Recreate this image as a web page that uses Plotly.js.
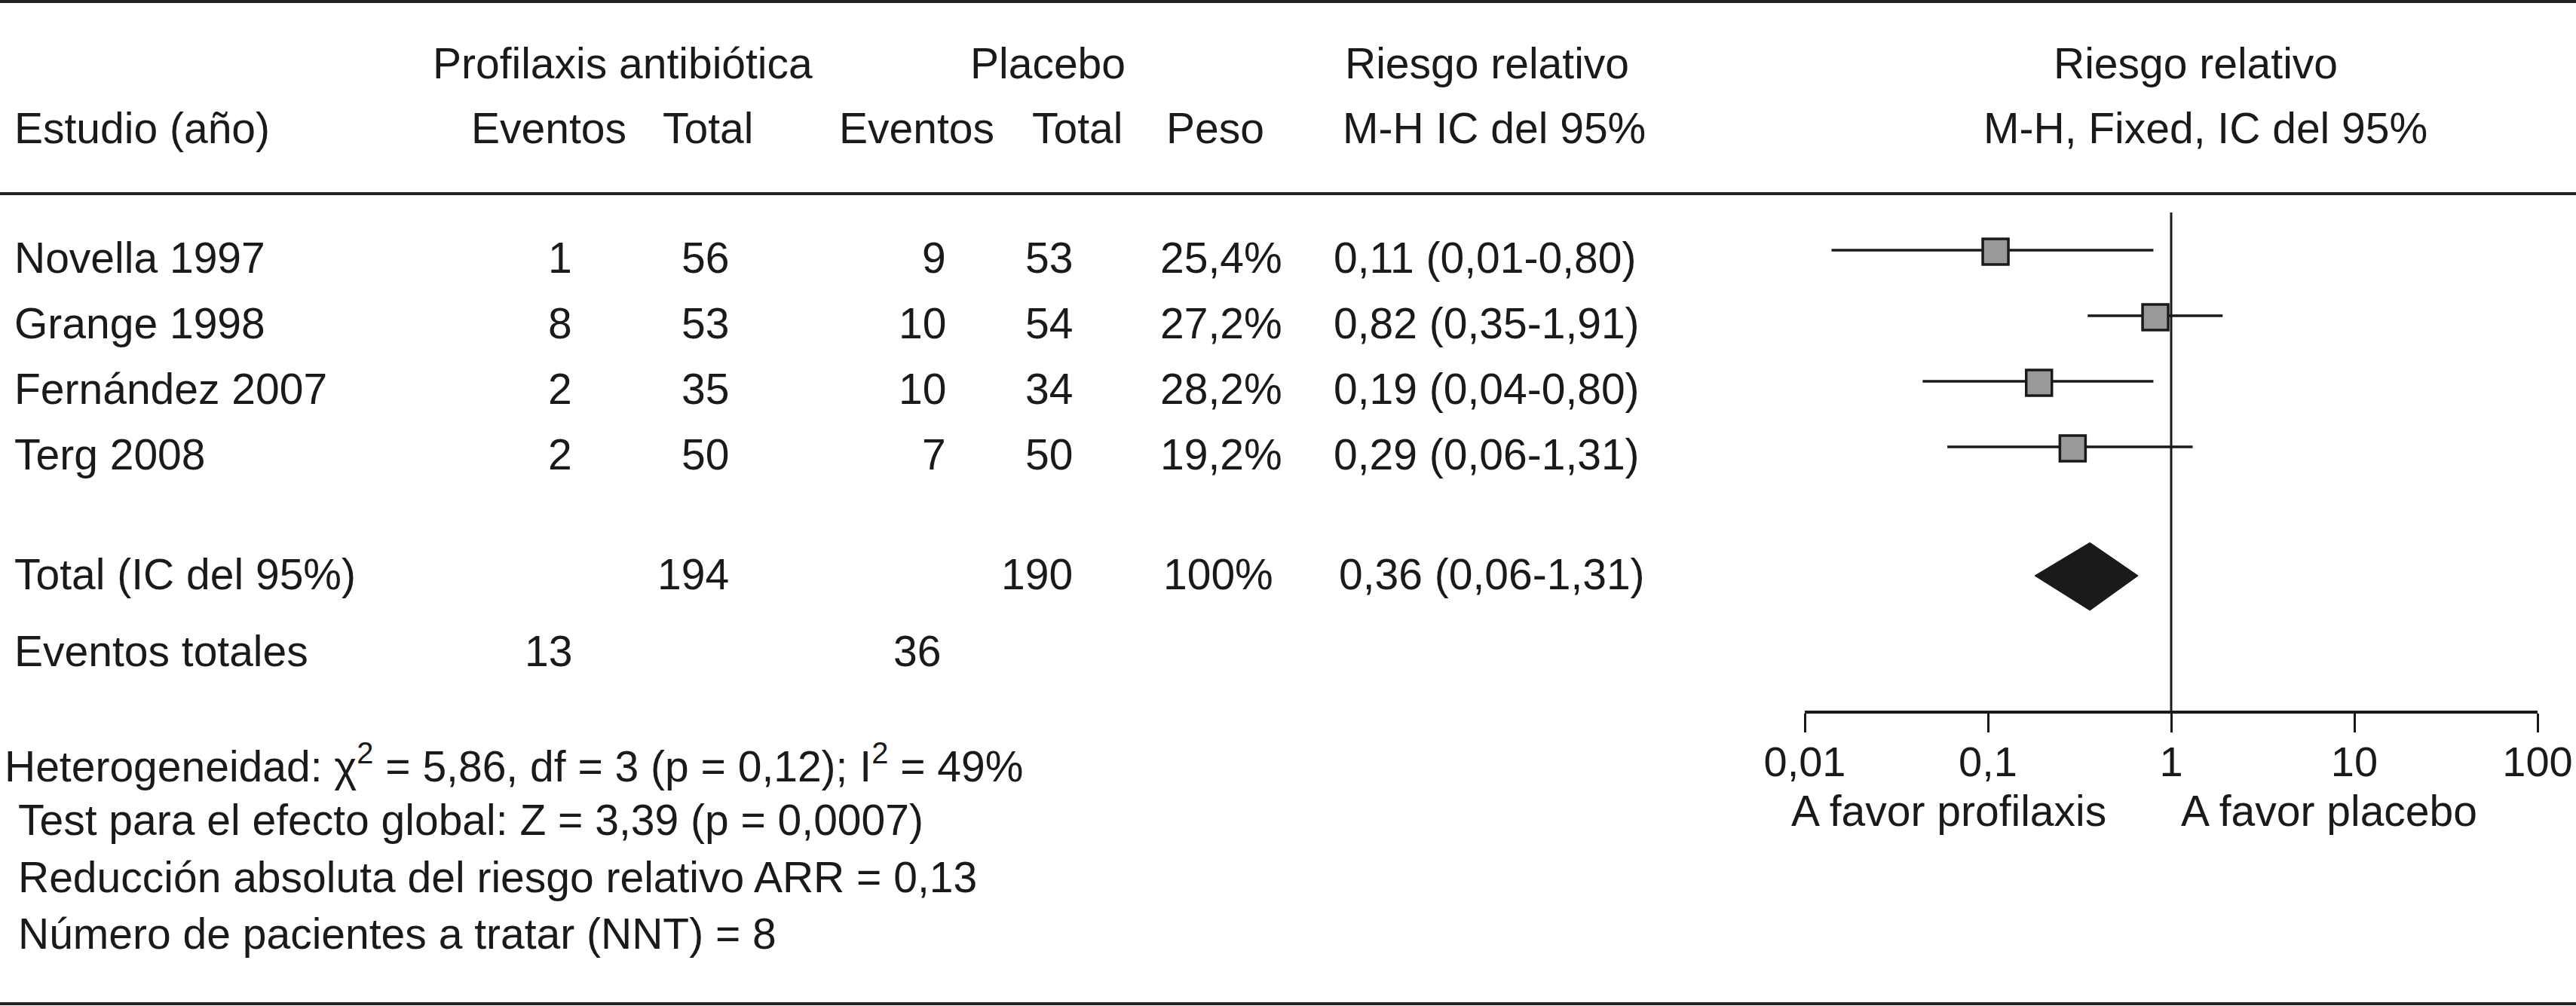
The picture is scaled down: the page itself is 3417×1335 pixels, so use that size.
<!DOCTYPE html>
<html>
<head>
<meta charset="utf-8">
<script src="https://cdn.plot.ly/plotly-3.0.1.min.js"></script>
<style>html,body{margin:0;padding:0;background:#fff;}#chart{width:3417px;height:1335px;}</style>
</head>
<body>
<div id="chart"></div>
<script>
// ---------- data ----------
const studies   = ['Novella 1997', 'Grange 1998', 'Fernández 2007', 'Terg 2008'];
const evProf    = [1, 8, 2, 2];
const totProf   = [56, 53, 35, 50];
const evPlac    = [9, 10, 10, 7];
const totPlac   = [53, 54, 34, 50];
const weights   = [25.4, 27.2, 28.2, 19.2];
const rr        = [0.11, 0.82, 0.19, 0.29];
const ciLo      = [0.014, 0.35, 0.044, 0.06];
const ciHi      = [0.80, 1.91, 0.80, 1.31];
const totalN    = [194, 190];          // profilaxis, placebo
const totalEv   = [13, 36];            // profilaxis, placebo
const pooledWeightLabel = '100%';
const pooledLabel = '0,36 (0,06-1,31)';
const pooled    = {rr: 0.36, lo: 0.18, hi: 0.66};
const tickVals  = [0.01, 0.1, 1, 10, 100];
const tickText  = ['0,01', '0,1', '1', '10', '100'];
const footLines = [
  'Heterogeneidad: χ<sup>2</sup> = 5,86, df = 3 (p = 0,12); I<sup>2</sup> = 49%',
  'Test para el efecto global: Z = 3,39 (p = 0,0007)',
  'Reducción absoluta del riesgo relativo ARR = 0,13',
  'Número de pacientes a tratar (NNT) = 8'
];

// ---------- layout constants ----------
const W = 3417, H = 1335;
const FONT = 'Liberation Sans, Arial, Helvetica, sans-serif';
const FS = 57;
const INK = '#1a1a1a';
const ROW0 = 342, STEP = 87;
const rowY = i => ROW0 + i * STEP;
const TOTAL_Y = 762, EVT_Y = 864;
const MARK_DY = -10;
const AXIS_Y = 945, REF_TOP = 282;

const dec = (v, d) => v.toFixed(d).replace('.', ',');

function ann(text, px, py, anchor, size) {
  return {xref: 'paper', yref: 'y', x: px / W, y: py, text: text, showarrow: false,
          xanchor: anchor, yanchor: 'middle', borderpad: 0,
          font: {family: FONT, size: size || FS, color: INK}};
}

const annotations = [];
// headers
annotations.push(ann('Profilaxis antibiótica', 826, 84, 'center'));
annotations.push(ann('Placebo', 1390, 84, 'center'));
annotations.push(ann('Riesgo relativo', 1972, 84, 'center'));
annotations.push(ann('Riesgo relativo', 2912, 84, 'center'));
annotations.push(ann('Estudio (año)', 18, 170, 'left'));
annotations.push(ann('Eventos', 728, 170, 'center'));
annotations.push(ann('Total', 939, 170, 'center'));
annotations.push(ann('Eventos', 1216, 170, 'center'));
annotations.push(ann('Total', 1429, 170, 'center'));
annotations.push(ann('Peso', 1612, 170, 'center'));
annotations.push(ann('M-H IC del 95%', 1982, 170, 'center'));
annotations.push(ann('M-H, Fixed, IC del 95%', 2925, 170, 'center'));

// study rows
studies.forEach((s, i) => {
  const y = rowY(i);
  annotations.push(ann(s, 18, y, 'left'));
  annotations.push(ann(String(evProf[i]), 760, y, 'right'));
  annotations.push(ann(String(totProf[i]), 968, y, 'right'));
  annotations.push(ann(String(evPlac[i]), 1256, y, 'right'));
  annotations.push(ann(String(totPlac[i]), 1424, y, 'right'));
  annotations.push(ann(dec(weights[i], 1) + '%', 1620, y, 'center'));
  annotations.push(ann(dec(rr[i], 2) + ' (' + dec(ciLo[i], 2) + '-' + dec(ciHi[i], 2) + ')', 1768, y, 'left'));
});

// total rows
annotations.push(ann('Total (IC del 95%)', 18, TOTAL_Y, 'left'));
annotations.push(ann(String(totalN[0]), 968, TOTAL_Y, 'right'));
annotations.push(ann(String(totalN[1]), 1424, TOTAL_Y, 'right'));
annotations.push(ann(pooledWeightLabel, 1616, TOTAL_Y, 'center'));
annotations.push(ann(pooledLabel, 1775, TOTAL_Y, 'left'));
annotations.push(ann('Eventos totales', 18, EVT_Y, 'left'));
annotations.push(ann(String(totalEv[0]), 760, EVT_Y, 'right'));
annotations.push(ann(String(totalEv[1]), 1249, EVT_Y, 'right'));

// footer
const footY = [1013, 1088, 1164, 1239];
const footX = [5, 23, 23, 23];
footLines.forEach((t, i) => annotations.push(ann(t, footX[i], footY[i], 'left')));

// favour labels
annotations.push(ann('A favor profilaxis', 2795, 1076, 'right'));
annotations.push(ann('A favor placebo', 2892, 1076, 'left'));

// rules
const rule = y => ({type: 'line', xref: 'paper', yref: 'y', x0: 0, x1: 1, y0: y, y1: y,
                    line: {color: '#222', width: 4}});
const shapes = [rule(2), rule(257), rule(1332)];

// ---------- traces ----------
const wx = [], wy = [];
studies.forEach((s, i) => {
  wx.push(ciLo[i], ciHi[i], null);
  wy.push(rowY(i) + MARK_DY, rowY(i) + MARK_DY, null);
});

const traces = [
  {type: 'scatter', mode: 'lines', x: [1, 1], y: [REF_TOP, AXIS_Y],
   line: {color: INK, width: 3}, hoverinfo: 'skip', cliponaxis: false},
  {type: 'scatter', mode: 'lines', x: wx, y: wy,
   line: {color: INK, width: 3.5}, hoverinfo: 'skip'},
  {type: 'scatter', mode: 'markers', x: rr, y: studies.map((s, i) => rowY(i) + MARK_DY + 2),
   marker: {symbol: 'square', size: 34, color: '#999999', line: {color: INK, width: 3.5}},
   text: studies, hoverinfo: 'text'},
  {type: 'scatter', mode: 'lines', fill: 'toself', fillcolor: INK,
   x: [pooled.lo, pooled.rr, pooled.hi, pooled.rr, pooled.lo],
   y: [TOTAL_Y + 2, TOTAL_Y + 2 - 44, TOTAL_Y + 2, TOTAL_Y + 2 + 46, TOTAL_Y + 2],
   line: {color: INK, width: 1}, hoverinfo: 'skip'}
];

const layout = {
  width: W, height: H,
  margin: {l: 0, r: 0, t: 0, b: 0, pad: 0},
  paper_bgcolor: '#ffffff', plot_bgcolor: '#ffffff',
  showlegend: false,
  font: {family: FONT, size: FS, color: INK},
  xaxis: {
    type: 'log', range: [-2, 2], domain: [2394 / W, 3366 / W],
    anchor: 'free', position: 1 - AXIS_Y / H,
    showline: true, linewidth: 4, linecolor: INK,
    ticks: 'outside', ticklen: 25, tickwidth: 3, tickcolor: INK,
    tickmode: 'array', tickvals: tickVals, ticktext: tickText,
    tickfont: {family: FONT, size: 56, color: INK},
    ticklabelstandoff: -9,
    showgrid: false, zeroline: false, fixedrange: true
  },
  yaxis: {range: [H, 0], domain: [0, 1], visible: false, showgrid: false,
          zeroline: false, fixedrange: true},
  annotations: annotations,
  shapes: shapes
};

Plotly.newPlot('chart', traces, layout, {displayModeBar: false, staticPlot: true});
</script>
</body>
</html>
